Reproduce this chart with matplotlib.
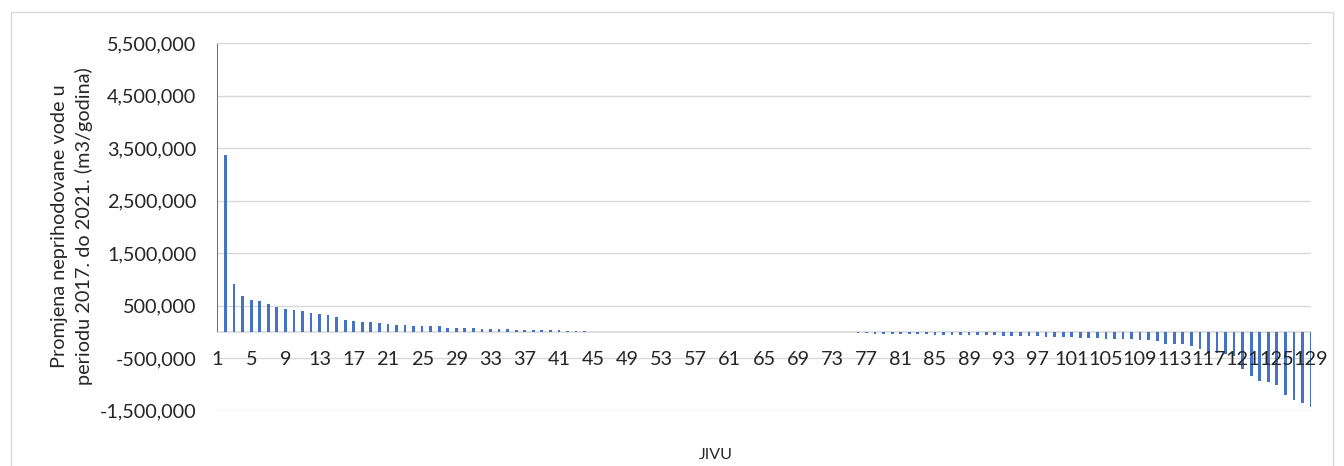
import matplotlib
matplotlib.use("Agg")
import matplotlib.pyplot as plt
from matplotlib.patches import Rectangle

# Change in non-revenue water per water utility (JIVU), sorted descending
change_m3 = [
    5480000, 3360000, 910000, 687000, 610000, 585000, 530000, 477000, 435000, 415000,
    390000, 352000, 348000, 324000, 288000, 230000, 210000, 197000, 185000, 167000,
    160000, 136000, 130000, 116000, 108000, 107000, 104000, 78000, 76000, 70000,
    67000, 62000, 57000, 52000, 50000, 45000, 39000, 37000, 35000, 31000,
    29000, 24000, 18000, 12000, 6000, 4000, 3000, 2500, 2000, 1500,
    1200, 1000, 800, 500, 300, 0, 0, -200, -400, -600,
    -900, -1200, -1600, -2000, -2500, -3000, -3600, -4200, -5000, -6000,
    -7000, -8000, -9000, -10000, -11000, -12500, -15000, -35000, -38000, -40000,
    -42000, -44000, -46000, -48000, -52000, -54000, -55000, -57000, -58000, -60000,
    -62000, -68000, -72000, -75000, -78000, -82000, -85000, -88000, -90000, -95000,
    -105000, -110000, -112000, -115000, -130000, -132000, -140000, -142000, -160000, -162000,
    -172000, -225000, -228000, -232000, -264000, -320000, -400000, -405000, -420000, -460000,
    -700000, -845000, -940000, -945000, -1005000, -1195000, -1305000, -1345000, -1435000,
]
categories = list(range(1, len(change_m3) + 1))
x_tick_pos = categories[::4]
x_tick_labels = [str(c) for c in x_tick_pos]
y_ticks = [-1500000, -500000, 500000, 1500000, 2500000, 3500000, 4500000, 5500000]
y_tick_labels = ["-1,500,000", "-500,000", "500,000", "1,500,000", "2,500,000",
                 "3,500,000", "4,500,000", "5,500,000"]

plt.rcParams["font.family"] = ["Lato", "DejaVu Sans"]
TEXT = "#262626"
FS = 14.3

W, H = 1344, 466
fig = plt.figure(figsize=(W / 100, H / 100), dpi=100)

# chart-area frame
fig.patches.append(Rectangle((11 / W, -0.05), (1333 - 11) / W, 1.05 - 12 / H,
                             transform=fig.transFigure, fill=False,
                             edgecolor="#D9D9D9", linewidth=1.0))

ax = fig.add_axes([217 / W, 1 - 410.7 / H, (1311 - 217) / W, (410.7 - 43) / H])

grid_col = "#D9D9D9"
for yv in y_ticks:
    ax.axhline(yv, color=grid_col, linewidth=1.0, zorder=0)
ax.axhline(0, color=grid_col, linewidth=1.2, zorder=1)

ax.bar(categories, change_m3, width=0.32, color="#4472C4", zorder=2)

ax.set_xlim(1, len(categories))
ax.set_ylim(-1500000, 5500000)

for s in ax.spines.values():
    s.set_visible(False)

ax.set_yticks(y_ticks, y_tick_labels)
ax.tick_params(axis="y", length=0, pad=15, labelsize=FS, labelcolor=TEXT)

# category labels sit just under the zero line
ax.set_xticks([])
for t, txt in zip(x_tick_pos, x_tick_labels):
    ax.annotate(txt, xy=(t, 0), xycoords="data", xytext=(0, -14),
                textcoords="offset points", ha="center", va="top",
                fontsize=FS, color=TEXT, annotation_clip=False)

fig.text(72 / W, 1 - 226.5 / H,
         "Promjena neprihodovane vode u\nperiodu 2017. do 2021. (m3/godina)",
         rotation=90, ha="center", va="center", multialignment="center",
         fontsize=FS, color=TEXT, linespacing=1.4)
fig.text(716 / W, 1 - 455 / H, "JIVU", ha="center", va="center",
         fontsize=11.5, color=TEXT)

fig.savefig("out.png", dpi=100)
